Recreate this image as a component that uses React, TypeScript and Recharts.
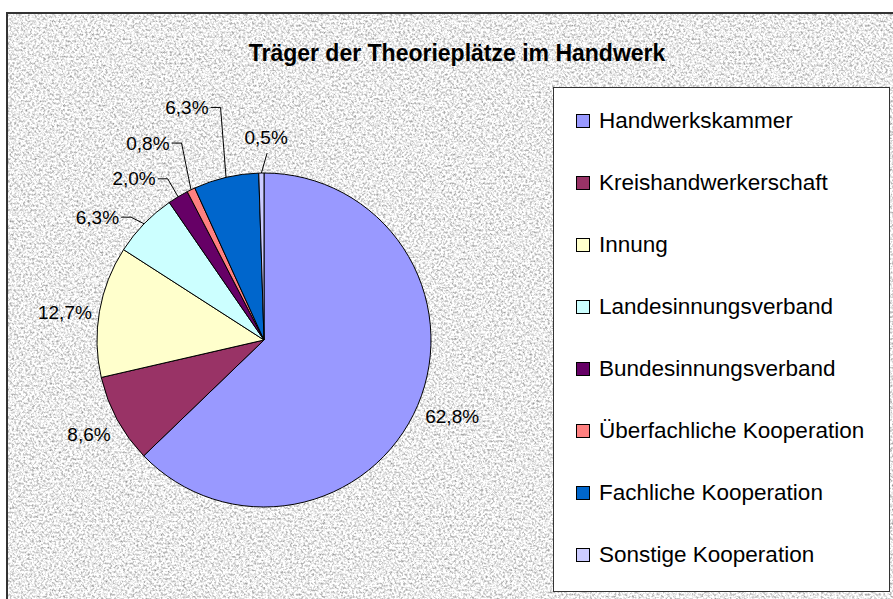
import React from 'react';
import { PieChart, Pie, Cell, Legend } from 'recharts';

const categories = [
  'Handwerkskammer',
  'Kreishandwerkerschaft',
  'Innung',
  'Landesinnungsverband',
  'Bundesinnungsverband',
  'Überfachliche Kooperation',
  'Fachliche Kooperation',
  'Sonstige Kooperation',
];
const shares = [62.8, 8.6, 12.7, 6.3, 2.0, 0.8, 6.3, 0.5];
const colors = ['#9999FF', '#993366', '#FFFFCC', '#CCFFFF', '#660066', '#FF8080', '#0066CC', '#CCCCFF'];

const data = categories.map((name, i) => ({ name, value: shares[i] }));

// label placement: extra radius and angle shift (clockwise degrees), leader style
const LABEL_LAYOUT = [
  { dr: 36, da: -1, leader: '' },
  { dr: 32, da: 0, leader: '' },
  { dr: 34, da: -2, leader: '' },
  { dr: 40, da: -7.7, leader: 'side' },
  { dr: 40, da: -7.9, leader: 'side' },
  { dr: 61.6, da: -4.6, leader: 'side' },
  { dr: 78, da: -5.2, leader: 'side' },
  { dr: 36, da: 1.5, leader: 'below' },
];

const FONT = '"Liberation Sans", Arial, sans-serif';
const RAD = Math.PI / 180;
const LABEL_SIZE = 19;

const fmt = (v: number) => v.toFixed(1).replace('.', ',') + '%';

function textWidth(s: string) {
  let w = 0;
  for (const ch of s) {
    if (ch === ',') w += 0.278;
    else if (ch === '%') w += 0.889;
    else w += 0.556;
  }
  return w * LABEL_SIZE;
}

function renderLabel(props: any) {
  const { cx, cy, midAngle, outerRadius, index } = props;
  const lay = LABEL_LAYOUT[index];
  const mid = (90 - midAngle) * RAD;
  const theta = (90 - midAngle + lay.da) * RAD;
  const r = outerRadius + lay.dr;
  const tx = cx + r * Math.sin(theta);
  const ty = cy - r * Math.cos(theta);
  const ex = cx + outerRadius * Math.sin(mid);
  const ey = cy - outerRadius * Math.cos(mid);
  const text = fmt(shares[index]);
  const hw = textWidth(text) / 2;

  let path = '';
  if (lay.leader === 'side') {
    path = `M${tx + hw + 2},${ty} H${tx + hw + 12} L${ex},${ey}`;
  } else if (lay.leader === 'below') {
    path = `M${tx + 1},${ty + 16} L${ex},${ey}`;
  }

  return (
    <g key={`lbl-${index}`}>
      {path && <path d={path} fill="none" stroke="#000" strokeWidth={1} />}
      <text
        x={tx}
        y={ty}
        textAnchor="middle"
        dominantBaseline="central"
        fontFamily={FONT}
        fontSize={LABEL_SIZE}
        fill="#000"
      >
        {text}
      </text>
    </g>
  );
}

function LegendBox() {
  return (
    <div
      style={{
        width: 337,
        height: 505,
        boxSizing: 'border-box',
        background: '#fff',
        border: '1.5px solid #333',
        fontFamily: FONT,
        fontSize: 22.5,
        color: '#000',
        position: 'relative',
      }}
    >
      {categories.map((name, i) => (
        <div
          key={name}
          style={{
            position: 'absolute',
            left: 22,
            top: 32.5 + i * 62 - 14,
            height: 28,
            display: 'flex',
            alignItems: 'center',
            whiteSpace: 'nowrap',
          }}
        >
          <span
            style={{
              display: 'inline-block',
              width: 12,
              height: 12,
              background: colors[i],
              border: '1px solid #000',
              marginRight: 9,
            }}
          />
          {name}
        </div>
      ))}
    </div>
  );
}

function Granite() {
  return (
    <svg width={900} height={600} style={{ position: 'absolute', left: 0, top: 0 }}>
      <defs>
        <filter
          id="granite"
          x="0"
          y="0"
          width="100%"
          height="100%"
          filterUnits="userSpaceOnUse"
          colorInterpolationFilters="sRGB"
        >
          <feTurbulence type="fractalNoise" baseFrequency="0.45" numOctaves={4} seed={7} result="n" />
          <feColorMatrix
            in="n"
            type="matrix"
            values="0.85 0 0 0 0.5  0.85 0 0 0 0.5  0.85 0 0 0 0.5  0 0 0 0 1"
          />
        </filter>
      </defs>
      <rect x={0} y={0} width={900} height={600} fill="#ebebeb" filter="url(#granite)" />
    </svg>
  );
}

export default function App() {
  return (
    <div
      style={{
        position: 'absolute',
        left: 0,
        top: 0,
        width: 893,
        height: 599,
        overflow: 'hidden',
        background: '#fff',
      }}
    >
      <div
        style={{
          position: 'absolute',
          left: 6,
          top: 12,
          width: 900,
          height: 600,
          border: '2px solid #333',
          overflow: 'hidden',
          background: '#ebebeb',
        }}
      >
        <Granite />
      </div>
      <div
        style={{
          position: 'absolute',
          left: 0,
          top: 40,
          width: 914,
          textAlign: 'center',
          fontFamily: FONT,
          fontWeight: 'bold',
          fontSize: 23,
          lineHeight: '27px',
          color: '#000',
        }}
      >
        Träger der Theorieplätze im Handwerk
      </div>
      <div style={{ position: 'absolute', left: 0, top: 0 }}>
        <PieChart width={893} height={599} margin={{ top: 0, right: 0, bottom: 0, left: 0 }}>
          <Pie
            data={data}
            dataKey="value"
            nameKey="name"
            cx={264}
            cy={340}
            outerRadius={167}
            startAngle={90}
            endAngle={-270}
            stroke="#000"
            strokeWidth={1}
            label={renderLabel}
            labelLine={false}
            isAnimationActive={false}
          >
            {data.map((d, i) => (
              <Cell key={d.name} fill={colors[i]} />
            ))}
          </Pie>
          <Legend
            layout="vertical"
            align="right"
            verticalAlign="top"
            content={() => <LegendBox />}
            wrapperStyle={{ position: 'absolute', left: 553, top: 87, width: 337, height: 505 }}
          />
        </PieChart>
      </div>
    </div>
  );
}
